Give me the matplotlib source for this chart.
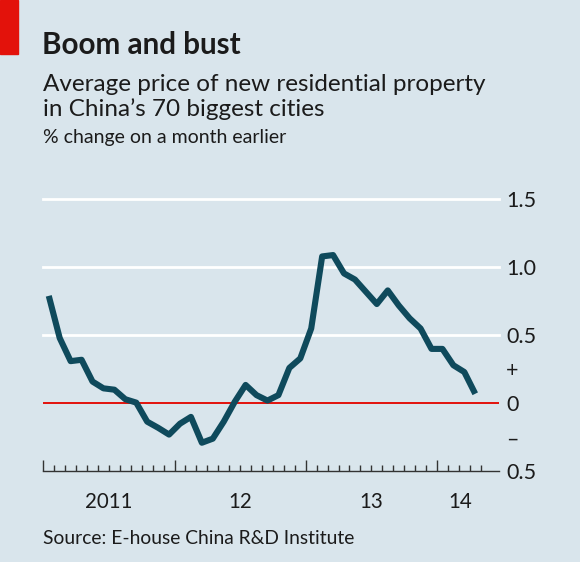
import matplotlib
matplotlib.use("Agg")
import matplotlib.pyplot as plt
import numpy as np

plt.rcParams['font.family'] = ['Lato', 'DejaVu Sans']

# monthly % change, Jan 2011 - Apr 2014
change_2011 = [0.79, 0.48, 0.31, 0.32, 0.16, 0.11, 0.10, 0.03, 0.005, -0.135, -0.18, -0.23]
change_2012 = [-0.15, -0.10, -0.29, -0.26, -0.135, 0.01, 0.135, 0.06, 0.02, 0.06, 0.26, 0.33]
change_2013 = [0.55, 1.08, 1.09, 0.955, 0.91, 0.82, 0.73, 0.83, 0.72, 0.625, 0.55, 0.40]
change_2014 = [0.40, 0.28, 0.23, 0.07]
values = change_2011 + change_2012 + change_2013 + change_2014
months = np.arange(len(values)) + 0.5   # months since Jan 2011, mid-month

year_labels = ['2011', '12', '13', '14']
year_label_pos = [6, 18, 30, 38.1]
ytick_pos = [-0.5, -0.25, 0, 0.25, 0.5, 1.0, 1.5]
ytick_labels = ['0.5', '–', '0', '+', '0.5', '1.0', '1.5']

BG = '#d9e5ec'
INK = '#1b1b1b'
LINE = '#0f4a5c'
RED = '#e3120b'

W, H = 580, 562
fig = plt.figure(figsize=(W / 100, H / 100), dpi=100, facecolor=BG)

def px(x, y):
    return x / W, 1 - y / H

# red tag
fig.patches.append(plt.Rectangle(px(0, 54), 18 / W, 54 / H, transform=fig.transFigure,
                                 color=RED, zorder=5))

fig.text(*px(42, 54), 'Boom and bust', fontsize=21.3, fontweight='bold', color=INK, va='baseline')
fig.text(*px(43, 91), 'Average price of new residential property', fontsize=17.5, color=INK, va='baseline')
fig.text(*px(43, 116), 'in China’s 70 biggest cities', fontsize=17.5, color=INK, va='baseline')
fig.text(*px(43, 143), '% change on a month earlier', fontsize=14, color=INK, va='baseline')
fig.text(*px(43, 544), 'Source: E-house China R&D Institute', fontsize=13.9, color=INK, va='baseline')

left, right = 43.3, 499.3
y_bot = 471.3
y_top = 403.3 - 1.6 * 136
ax = fig.add_axes([left / W, 1 - y_bot / H, (right - left) / W, (y_bot - y_top) / H])
ax.set_facecolor(BG)
ax.set_xlim(0, 41.7)
ax.set_ylim(-0.5, 1.6)

for s in ['top', 'left', 'right']:
    ax.spines[s].set_visible(False)
ax.spines['bottom'].set_color('#333333')
ax.spines['bottom'].set_linewidth(1.0)

for g in [0.5, 1.0, 1.5]:
    ax.axhline(g, color='white', lw=2.0, zorder=1, clip_on=False)
ax.axhline(0, color=RED, lw=1.4, zorder=2)

ax.plot(months, values, color=LINE, lw=4.4, solid_capstyle='butt',
        solid_joinstyle='round', zorder=3)

# x ticks: years major, months minor, pointing up
ax.set_xticks([0, 12, 24, 36])
ax.set_xticks([m for m in range(0, 41) if m % 12], minor=True)
ax.tick_params(axis='x', which='major', direction='in', length=8, width=1.0,
               color='#333333', labelbottom=False)
ax.tick_params(axis='x', which='minor', direction='in', length=4.5, width=1.0,
               color='#333333')
for lab, pos in zip(year_labels, year_label_pos):
    ax.text(pos, -0.726, lab, ha='center', va='center', fontsize=14.8, color=INK,
            clip_on=False)

ax.yaxis.tick_right()
ax.set_yticks(ytick_pos)
ax.set_yticklabels(ytick_labels)
ax.tick_params(axis='y', length=0, pad=5, labelsize=15.5, labelcolor=INK)
for t in ax.get_yticklabels():
    t.set_horizontalalignment('left')

fig.savefig('out.png', dpi=100, facecolor=BG)
